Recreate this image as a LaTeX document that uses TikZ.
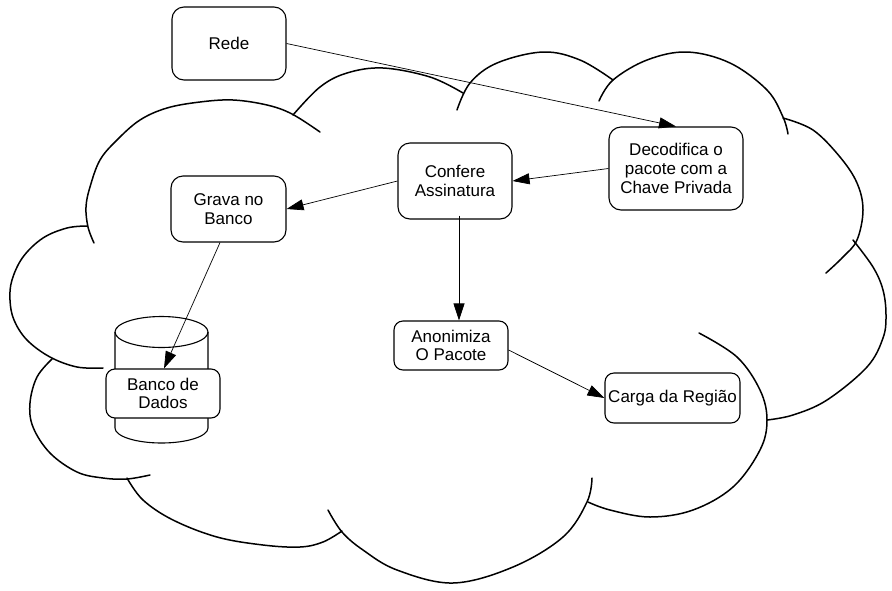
\documentclass[tikz,border=0pt]{standalone}
\usepackage{fontspec}
\setmainfont{Liberation Sans}
\usetikzlibrary{arrows.meta}
\begin{document}
\begin{tikzpicture}[x=1pt,y=-1pt,
  cloudline/.style={line width=1.5pt, line cap=round},
  box/.style={draw, line width=1.1pt, rounded corners=12pt, fill=white, align=center, inner sep=0pt, font=\fontsize{17}{18.8}\selectfont},
  smallbox/.style={box, rounded corners=9pt},
  conn/.style={line width=0.7pt, -{Triangle[length=17pt,width=11pt]}},
  cyl/.style={line width=1.1pt}
]
\useasboundingbox (0,0) rectangle (892,590);
% cloud
\draw[cloudline] plot[smooth, tension=0.6] coordinates {(94,243) (88,227) (86,207) (90,187) (100,160) (117,140) (140,120) (167,108) (200,102) (233,100) (267,105) (292,114) (320,132)};
\draw[cloudline] plot[smooth, tension=0.6] coordinates {(87,226) (67,228) (43,238) (23,257) (12,280) (10,300) (14,320) (27,340) (50,357) (77,367) (103,368)};
\draw[cloudline] plot[smooth, tension=0.6] coordinates {(52,359) (37,377) (30,403) (33,427) (50,453) (77,472) (103,478) (127,479) (150,475)};
\draw[cloudline] plot[smooth, tension=0.6] coordinates {(127,478) (143,500) (173,520) (217,537) (263,545) (300,547) (323,542) (342,531)};
\draw[cloudline] plot[smooth, tension=0.6] coordinates {(328,510) (342,532) (363,550) (397,570) (453,583) (513,567) (563,537) (587,502) (592,478)};
\draw[cloudline] plot[smooth, tension=0.6] coordinates {(699,333) (737,357) (760,390) (767,420) (760,450) (733,487) (693,510) (650,517) (610,510) (588,502)};
\draw[cloudline] plot[smooth, tension=0.6] coordinates {(853,240) (873,267) (883,290) (886,315) (883,338) (867,367) (827,400) (793,415) (767,420)};
\draw[cloudline] plot[smooth, tension=0.6] coordinates {(783,118) (813,130) (840,157) (857,183) (863,210) (857,240) (843,257) (826,273)};
\draw[cloudline] plot[smooth, tension=0.6] coordinates {(599,101) (613,80) (647,60) (687,52) (730,63) (767,90) (783,117) (788,134)};
\draw[cloudline] plot[smooth, tension=0.6] coordinates {(457,110) (470,83) (497,63) (543,52) (580,60) (613,80)};
\draw[cloudline] plot[smooth, tension=0.6] coordinates {(293,115) (320,87) (347,73) (383,68) (430,77) (463,93)};
% database cylinder
\draw[cyl] (115,332) -- (115,428) arc[start angle=180, end angle=360, x radius=46.5pt, y radius=15pt] -- (208,332);
\draw[cyl] (161.5,332) ellipse [x radius=46.5pt, y radius=15.5pt];
% nodes
\node[box, minimum width=114pt, minimum height=73pt] (rede) at (229,43.5) {Rede};
\node[box, minimum width=134pt, minimum height=83pt] (deco) at (676,168.5) {Decodifica o\\pacote com a\\Chave Privada};
\node[box, minimum width=114pt, minimum height=76pt] (conf) at (455,181) {Confere\\Assinatura};
\node[box, minimum width=115pt, minimum height=66pt] (grava) at (228.5,209) {Grava no\\Banco};
\node[smallbox, minimum width=114pt, minimum height=49pt] (banco) at (163,393.5) {Banco de\\Dados};
\node[smallbox, minimum width=114pt, minimum height=49pt] (anon) at (451,345.5) {Anonimiza\\O Pacote};
\node[smallbox, minimum width=135pt, minimum height=50pt] (carga) at (672.5,398) {Carga da Região};
% connectors
\draw[conn] (rede.east) -- (deco.north);
\draw[conn] (deco.west) -- (conf.east);
\draw[conn] (conf.west) -- (grava.east);
\draw[conn] ([xshift=-8.5pt]grava.south) -- ([xshift=1pt]banco.north);
\draw[conn] ([xshift=4pt,yshift=4pt]conf.south) -- ([xshift=8pt]anon.north);
\draw[conn] ([yshift=-4.5pt]anon.east) -- (carga.west);
\end{tikzpicture}
\end{document}
